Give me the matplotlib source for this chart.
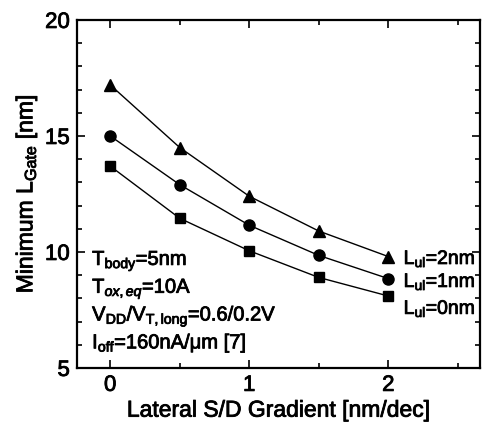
import numpy as np
from matplotlib import pyplot as plt
from matplotlib import patheffects as pe

plt.rcParams['font.family'] = 'Liberation Sans'
plt.rcParams['mathtext.fontset'] = 'custom'
plt.rcParams['mathtext.rm'] = 'Liberation Sans'
plt.rcParams['mathtext.it'] = 'Liberation Sans:italic'

gradient = [0, 0.5, 1, 1.5, 2]
lgate_2nm = [17.2, 14.5, 12.4, 10.9, 9.8]
lgate_1nm = [15.0, 12.9, 11.15, 9.85, 8.85]
lgate_0nm = [13.7, 11.45, 10.05, 8.9, 8.1]
series_labels = ['L$_{\\mathrm{ul}}$=2nm', 'L$_{\\mathrm{ul}}$=1nm', 'L$_{\\mathrm{ul}}$=0nm']

# slightly heavier text, like the scanned original
heavy = [pe.withStroke(linewidth=0.6, foreground='black')]

fig = plt.figure(figsize=(4.83, 4.27), dpi=100)
ax = fig.add_axes([0.159, 0.136, 0.835, 0.815])

series = [(lgate_2nm, '^', 9), (lgate_1nm, 'o', 8), (lgate_0nm, 's', 6.5)]
label_y = [9.48, 8.49, 7.33]  # label baselines, nudged apart
for (vals, mk, ms), lab, ly in zip(series, series_labels, label_y):
    ax.plot(gradient, vals, color='black', lw=1.0, marker=mk, ms=ms)
    ax.text(2.11, ly, lab, fontsize=14, va='baseline', ha='left', path_effects=heavy)

ax.set_xlim(-0.24, 2.66)
ax.set_ylim(5, 20)
ax.set_xticks([0, 1, 2])
ax.set_xticks([0.5, 1.5, 2.5], minor=True)
ax.set_yticks([5, 10, 15, 20])
ax.set_yticks(np.arange(5, 21, 1), minor=True)
ax.tick_params(which='both', direction='in', top=True, right=True, labelsize=16, width=1.2)
ax.tick_params(which='major', length=6)
ax.tick_params(which='minor', length=3.5)
ax.tick_params(axis='x', pad=5)
ax.tick_params(axis='y', pad=5)
for s in ax.spines.values():
    s.set_linewidth(1.6)
for lbl in ax.get_xticklabels() + ax.get_yticklabels():
    lbl.set_path_effects(heavy)

ax.set_xlabel('Lateral S/D Gradient [nm/dec]', fontsize=16.5, labelpad=2, path_effects=heavy)
ax.set_ylabel('Minimum L$_{\\mathrm{Gate}}$ [nm]', fontsize=16.5, labelpad=4, path_effects=heavy)

notes = ['T$_{\\mathrm{body}}$=5nm',
         'T$_{ox,eq}$=10A',
         'V$_{\\mathrm{DD}}$/V$_{\\mathrm{T,long}}$=0.6/0.2V',
         'I$_{\\mathrm{off}}$=160nA/\u03bcm [7]']
for i, t in enumerate(notes):
    ax.text(-0.13, 9.44 - i * 1.2, t, fontsize=14.5, va='baseline', ha='left', path_effects=heavy)

fig.savefig('out.png', dpi=100)
